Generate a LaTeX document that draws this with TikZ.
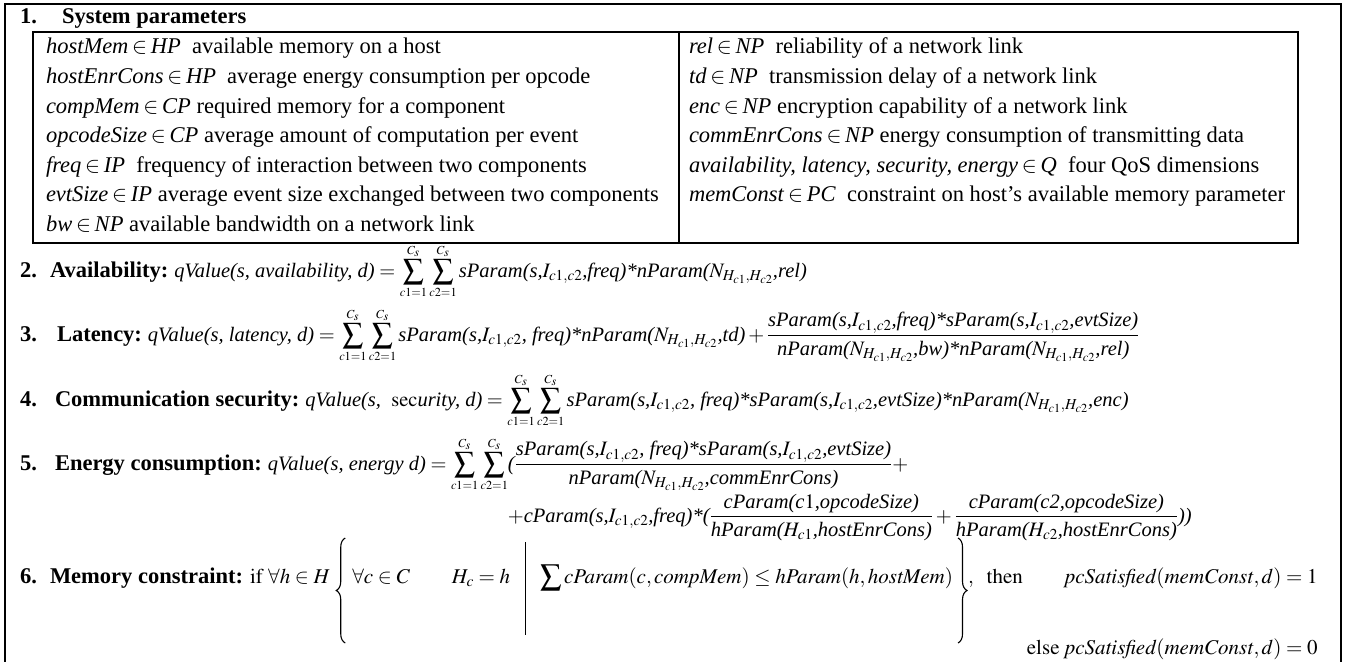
\documentclass[tikz,border=0pt]{standalone}
\usepackage{mathptmx}
\usepackage[no-math]{fontspec}
\setmainfont{Liberation Serif}
\usetikzlibrary{decorations.pathreplacing}
\newcommand{\tx}[1]{\textit{#1}}
\newcommand{\Icc}{I_{c1,c2}}
\newcommand{\NHH}{N_{H_{c1},H_{c2}}}
\newcommand{\dsum}{\sum_{\scriptscriptstyle c1=1}^{\scriptscriptstyle C_s}\sum_{\scriptscriptstyle c2=1}^{\scriptscriptstyle C_s}}
\begin{document}
\begin{tikzpicture}[x=1pt,y=-1pt,
  every node/.style={inner sep=0pt,outer sep=0pt,anchor=base west},
  font=\fontsize{22.5}{27}\selectfont,
  frame/.style={line width=2.2pt},
  tbl/.style={line width=1.3pt},
  eq/.style={font=\fontsize{20.5}{25}\selectfont},
  eqb/.style={font=\fontsize{21}{25}\selectfont},
  bracestyle/.style={line width=1.1pt,decorate,decoration={brace,amplitude=9pt}},
  barstyle/.style={line width=1.1pt}]
\useasboundingbox (0,0) rectangle (1354,661);
% outer frame (open at the bottom)
\coordinate (fa) at (5,675);
\coordinate (fb) at (5,4);
\coordinate (fc) at (1341,4);
\coordinate (fd) at (1341,675);
\draw[frame] (fa) -- (fb) -- (fc) -- (fd);
% table
\coordinate (tTL) at (33,32);
\coordinate (tBR) at (1298,243);
\coordinate (dT) at (679,32);
\coordinate (dB) at (679,243);
\draw[tbl] (tTL) rectangle (tBR);
\draw[tbl] (dT) -- (dB);
% title
\node (n1) at (20,24) {\textbf{1.}};
\node (l1) at (62,24) {\textbf{System parameters}};
% left column
\node (a1) at (46,54) {\tx{hostMem}\,$\in$\,\tx{HP}\ \ available memory on a host};
\node (a2) at (46,83.5) {\tx{hostEnrCons}\,$\in$\,\tx{HP}\ \ average energy consumption per opcode};
\node (a3) at (46,113) {\tx{compMem}\,$\in$\,\tx{CP} required memory for a component};
\node (a4) at (46,142.5) {\tx{opcodeSize}\,$\in$\,\tx{CP} average amount of computation per event};
\node (a5) at (46,172) {\tx{freq}\,$\in$\,\tx{IP}\ \ frequency of interaction between two components};
\node (a6) at (46,201.5) {\tx{evtSize}\,$\in$\,\tx{IP} average event size exchanged between two components};
\node (a7) at (46,231) {\tx{bw}\,$\in$\,\tx{NP} available bandwidth on a network link};
% right column
\node (b1) at (689,54) {\tx{rel}\,$\in$\,\tx{NP}\ \ reliability of a network link};
\node (b2) at (689,83.5) {\tx{td}\,$\in$\,\tx{NP}\ \ transmission delay of a network link};
\node (b3) at (689,113) {\tx{enc}\,$\in$\,\tx{NP} encryption capability of a network link};
\node (b4) at (689,142.5) {\tx{commEnrCons}\,$\in$\,\tx{NP} energy consumption of transmitting data};
\node (b5) at (689,172) {\tx{availability, latency, security, energy}\,$\in$\,\tx{Q}\ \ four QoS dimensions};
\node (b6) at (689,201.5) {\tx{memConst}\,$\in$\,\tx{PC}\ \ constraint on host’s available memory parameter};
% 2. Availability
\node (n2) at (20,277) {\textbf{2.}};
\node (l2) at (50,277) {\textbf{Availability:}};
\node[eq] (f2) at ([xshift=6pt]l2.base east) {$\displaystyle\tx{qValue(s, availability, d)} = \dsum\tx{sParam(s,}\Icc\tx{,freq)*nParam(}\NHH\tx{,rel)}$};
% 3. Latency
\node (n3) at (20,341) {\textbf{3.}};
\node (l3) at (57,341) {\textbf{Latency:}};
\node[eq] (f3) at ([xshift=6pt]l3.base east) {$\displaystyle\tx{qValue(s, latency, d)} = \dsum\tx{sParam(s,}\Icc\tx{, freq)*nParam(}\NHH\tx{,td)} + \frac{\tx{sParam(s,}\Icc\tx{,freq)*sParam(s,}\Icc\tx{,evtSize)}}{\tx{nParam(}\NHH\tx{,bw)*nParam(}\NHH\tx{,rel)}}$};
% 4. Communication security
\node (n4) at (20,406) {\textbf{4.}};
\node (l4) at (55,406) {\textbf{Communication security:}};
\node[eq] (f4) at ([xshift=6pt]l4.base east) {$\displaystyle\tx{qValue(s, }\ \mathrm{sec}\tx{urity, d)} = \dsum\tx{sParam(s,}\Icc\tx{, freq)*sParam(s,}\Icc\tx{,evtSize)*nParam(}\NHH\tx{,enc)}$};
% 5. Energy consumption
\node (n5) at (20,470) {\textbf{5.}};
\node (l5) at (55,470) {\textbf{Energy consumption:}};
\node[eq] (f5a) at ([xshift=6pt]l5.base east) {$\displaystyle\tx{qValue(s, energy d)} = \dsum$};
\node[eq] (f5b) at (f5a.base east) {$\displaystyle\tx{(}\frac{\tx{sParam(s,}\Icc\tx{, freq)*sParam(s,}\Icc\tx{,evtSize)}}{\tx{nParam(}\NHH\tx{,commEnrCons)}} +$};
\node[eq] (f5c) at (f5b.west |- 0,522) {$\displaystyle + \tx{cParam(s,}\Icc\tx{,freq)*(}\frac{\tx{cParam(c}1\tx{,opcodeSize)}}{\tx{hParam(}H_{c1}\tx{,hostEnrCons)}} + \frac{\tx{cParam(c2,opcodeSize)}}{\tx{hParam(}H_{c2}\tx{,hostEnrCons)}}\tx{))}$};
% 6. Memory constraint
\node (n6) at (20,583) {\textbf{6.}};
\node (l6) at (50,583) {\textbf{Memory constraint:}};
\node[eqb] (f6a) at ([xshift=7pt]l6.base east) {$\mathrm{if}\ \forall h\in H$};
\coordinate (brL1) at ([xshift=15pt]f6a.base east |- 0,643);
\coordinate (brL2) at ([xshift=15pt]f6a.base east |- 0,538);
\draw[bracestyle] (brL1) -- (brL2);
\node[eqb] (f6b) at ([xshift=22pt]f6a.base east) {$\forall c\in C\qquad H_c=h$};
\coordinate (bar1) at ([xshift=15pt]f6b.base east |- 0,542);
\coordinate (bar2) at ([xshift=15pt]f6b.base east |- 0,635);
\draw[barstyle] (bar1) -- (bar2);
\node[eqb] (f6c) at ([xshift=30pt]f6b.base east) {$\displaystyle\sum \mathit{cParam}(c,\mathit{compMem})\le \mathit{hParam}(h,\mathit{hostMem})$};
\coordinate (brR1) at ([xshift=5pt]f6c.base east |- 0,538);
\coordinate (brR2) at ([xshift=5pt]f6c.base east |- 0,643);
\draw[bracestyle] (brR1) -- (brR2);
\node[eqb] (f6d) at ([xshift=15pt]f6c.base east) {$,\ \ \mathrm{then}\qquad \mathit{pcSatisfied}(\mathit{memConst},d)=1$};
\node[eqb,anchor=base east] (f6e) at (f6d.base east |- 0,654) {$\mathrm{else}\ \mathit{pcSatisfied}(\mathit{memConst},d)=0$};
\end{tikzpicture}
\end{document}
